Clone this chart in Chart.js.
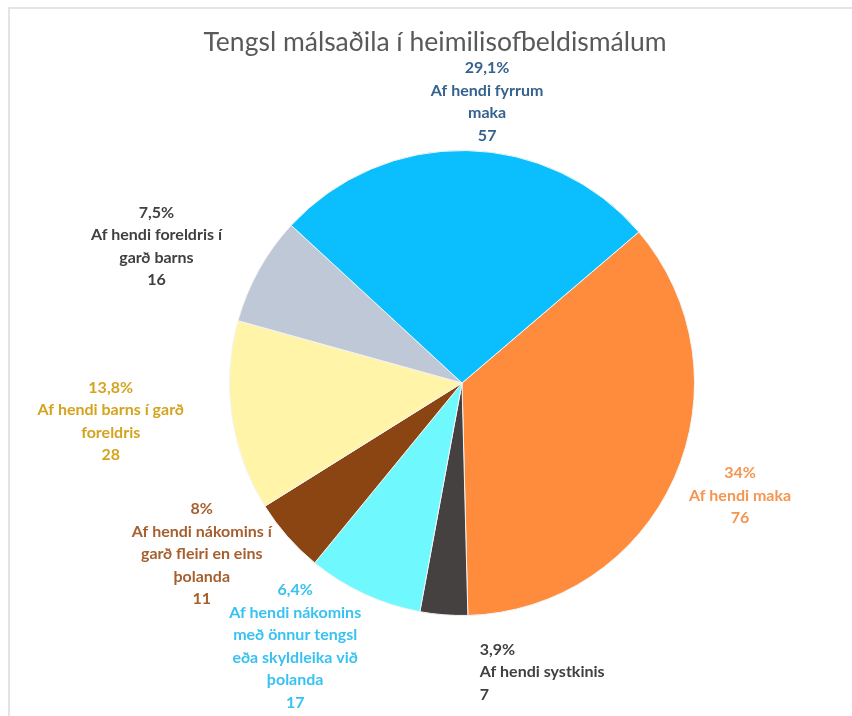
<!DOCTYPE html>
<html>
<head>
<meta charset="utf-8">
<script src="https://cdn.jsdelivr.net/npm/chart.js@4/dist/chart.umd.min.js"></script>
<style>
  html, body { margin: 0; padding: 0; background: #fff; }
  #wrap { position: relative; width: 852px; height: 716px; }
  #frame { position: absolute; left: 8px; top: 7px; right: 0; bottom: 0;
           border-top: 2px solid #e4e4e4; border-left: 2px solid #e4e4e4; }
  canvas { position: absolute; left: 0; top: 0; }
</style>
</head>
<body>
<div id="wrap">
  <div id="frame"></div>
  <canvas id="myChart" width="852" height="716"></canvas>
</div>
<script>
// slices, in drawing order (clockwise)
let categories = [
  ['Af hendi maka'],
  ['Af hendi systkinis'],
  ['Af hendi nákomins', 'með önnur tengsl', 'eða skyldleika við', 'þolanda'],
  ['Af hendi nákomins í', 'garð fleiri en eins', 'þolanda'],
  ['Af hendi barns í garð', 'foreldris'],
  ['Af hendi foreldris í', 'garð barns'],
  ['Af hendi fyrrum', 'maka']
];
let counts = [76, 7, 17, 11, 28, 16, 57];
let percentLabels = ['34%', '3,9%', '6,4%', '8%', '13,8%', '7,5%', '29,1%'];

let sliceColors = ['#ff8c3c', '#454140', '#70f8ff', '#8b4513', '#fff4a8', '#bec8d7', '#0bbfff'];
let textColors = ['#f59650', '#404040', '#38c2f2', '#a65f2e', '#d4a41e', '#404040', '#35628f'];
// label placement: [angle shift from slice middle in degrees, distance in radii, align]
let labelPlace = [[-2, 1.29, 'center'], [-20, 1.29, 'left'], [7.5, 1.34, 'center'],
  [8, 1.34, 'center'], [2, 1.52, 'center'], [-5, 1.44, 'center'], [4, 1.215, 'center']];

const labelPlugin = {
  id: 'pieLabels',
  afterDraw(chart) {
    const ctx = chart.ctx;
    ctx.save();
    // title
    ctx.fillStyle = '#595959';
    ctx.font = '26.5px Lato, "Open Sans", sans-serif';
    ctx.textAlign = 'center';
    ctx.textBaseline = 'middle';
    ctx.fillText('Tengsl málsaðila í heimilisofbeldismálum', 435, 42);

    const meta = chart.getDatasetMeta(0);
    ctx.font = 'bold 16px Lato, "Open Sans", sans-serif';
    meta.data.forEach((arc, i) => {
      const p = arc.getProps(['x', 'y', 'startAngle', 'endAngle', 'outerRadius'], true);
      const place = labelPlace[i];
      const mid = (p.startAngle + p.endAngle) / 2 + place[0] * Math.PI / 180;
      const cx = p.x + Math.cos(mid) * p.outerRadius * place[1];
      const cy = p.y + Math.sin(mid) * p.outerRadius * place[1];
      const lines = [percentLabels[i]].concat(categories[i]).concat([String(counts[i])]);
      const lh = 22.5;
      const top = cy - (lines.length - 1) * lh / 2;
      ctx.fillStyle = textColors[i];
      let left = cx;
      if (place[2] === 'left') {
        const w = Math.max(...lines.map(l => ctx.measureText(l).width));
        left = cx - w / 2;
      }
      ctx.textAlign = place[2];
      lines.forEach((l, j) => ctx.fillText(l, left, top + j * lh));
    });
    ctx.restore();
  }
};

var ctx = document.getElementById('myChart').getContext('2d');
var chart = new Chart(ctx, {
  type: 'pie',
  data: {
    labels: categories.map(c => c.join(' ')),
    datasets: [{
      data: counts,
      backgroundColor: sliceColors,
      borderColor: '#f4f4f4',
      borderWidth: 1
    }]
  },
  options: {
    responsive: false,
    animation: false,
    rotation: 49.5,
    layout: { padding: { left: 196, right: 124, top: 150, bottom: 100 } },
    plugins: {
      legend: { display: false },
      tooltip: { enabled: false }
    }
  },
  plugins: [labelPlugin]
});
</script>
</body>
</html>
